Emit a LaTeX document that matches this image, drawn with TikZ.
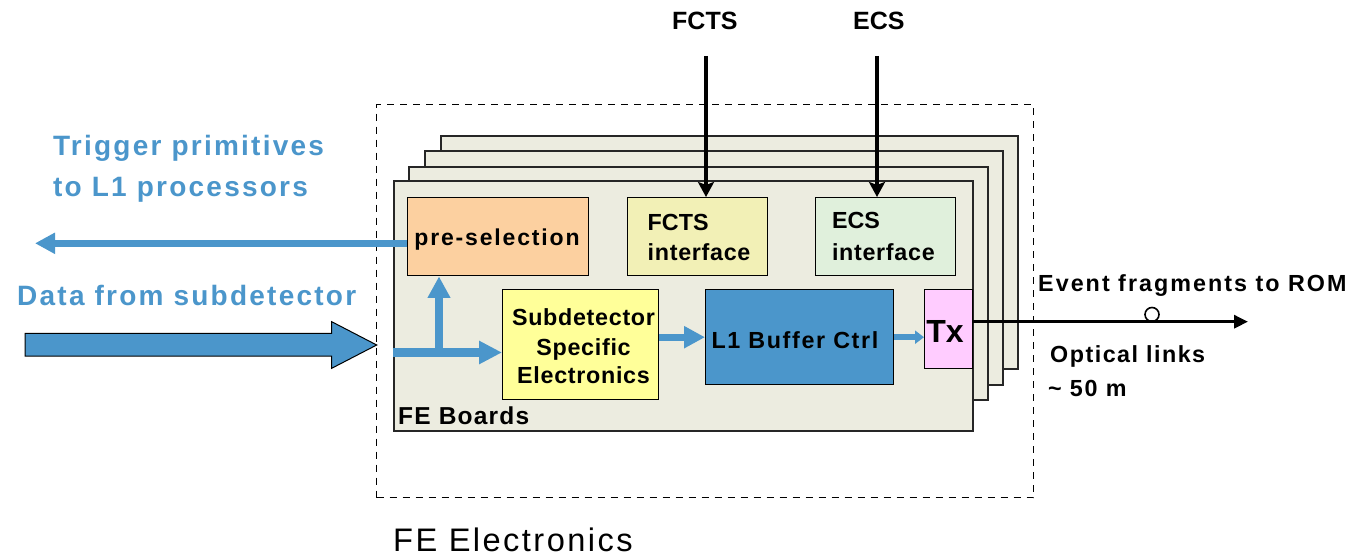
\documentclass[tikz,border=0pt]{standalone}
\usepackage{fontspec}
\setmainfont{Liberation Sans}
\usetikzlibrary{arrows.meta}
\definecolor{cblue}{RGB}{75,150,203}
\definecolor{boardc}{RGB}{236,236,224}
\definecolor{peach}{RGB}{252,208,160}
\definecolor{fctsc}{RGB}{242,240,182}
\definecolor{ecsc}{RGB}{224,240,220}
\definecolor{sdc}{RGB}{255,255,153}
\definecolor{l1c}{RGB}{75,150,203}
\definecolor{txc}{RGB}{255,204,255}
\newcommand\tf[2]{\fontsize{#1}{#1}\selectfont\bfseries\addfontfeature{LetterSpace=#2}}
\begin{document}
\begin{tikzpicture}[x=1pt,y=-1pt,
  board/.style={draw=black!85, line width=2pt, fill=boardc, anchor=north west, inner sep=0pt},
  blk/.style={draw=black, line width=1.4pt, anchor=north west, inner sep=0pt},
  txt/.style={inner sep=0pt, anchor=base},
  txtw/.style={inner sep=0pt, anchor=base west},
  barr/.style={draw=cblue, line width=8.3pt, -{Triangle[length=22pt,width=22pt]}},
  karr/.style={draw=black, line width=3.5pt, -{Stealth[length=15pt,width=16pt,inset=3pt]}},
]
\useasboundingbox (0,0) rectangle (1357,559);
% dashed FE electronics frame
\node[blk, dash pattern=on 7pt off 6pt, line width=1.3pt, minimum width=657pt, minimum height=393pt] (fe) at (376,104) {};
% boards
\node[board, minimum width=577pt, minimum height=233pt] (b4) at (440,135) {};
\node[board, minimum width=578pt, minimum height=234pt] (b3) at (424,150) {};
\node[board, minimum width=579pt, minimum height=233pt] (b2) at (408,166) {};
\node[board, minimum width=579.5pt, minimum height=250pt] (b1) at (392.5,180) {};
% boxes
\node[blk, fill=peach, minimum width=181pt, minimum height=78pt] (ps) at (407,197) {};
\node[blk, fill=fctsc, minimum width=140pt, minimum height=78pt] (fi) at (627,197) {};
\node[blk, fill=ecsc, minimum width=140.5pt, minimum height=78pt] (ei) at (814.5,197) {};
\node[blk, fill=sdc, minimum width=156pt, minimum height=110pt] (sd) at (502,289) {};
\node[blk, fill=l1c, minimum width=188pt, minimum height=95pt] (l1) at (705,289) {};
\node[blk, fill=txc, minimum width=48pt, minimum height=79pt] (tx) at (924,289) {};
% box texts
\node[txt, font=\tf{23}{8}] (pst) at (497,245) {pre-selection};
\node[txtw, font=\tf{23.3}{0}] (fit1) at (647.5,230) {FCTS};
\node[txtw, font=\tf{23.3}{3}] (fit2) at (647.5,260) {interface};
\node[txtw, font=\tf{23.3}{0}] (eit1) at (831.8,228) {ECS};
\node[txtw, font=\tf{23.3}{3}] (eit2) at (831.8,260) {interface};
\node[txt, font=\tf{23.3}{3}] (sdt1) at (583.5,325) {Subdetector};
\node[txt, font=\tf{23.3}{3}] (sdt2) at (583.5,355) {Specific};
\node[txt, font=\tf{23.3}{3}] (sdt3) at (583.5,383.5) {Electronics};
\node[txtw, font=\tf{23.3}{7}] (l1t) at (711.3,348.3) {L1 Buffer Ctrl};
\node[txt, font=\tf{32}{0}] (txl) at (945,342.3) {Tx};
\node[txtw, font=\tf{24.5}{5}] (fbt) at (398,424.3) {FE Boards};
% top labels and arrows
\node[txtw, font=\tf{25}{0}] (fcts) at (672,30) {FCTS};
\node[txtw, font=\tf{25}{0}] (ecs) at (853,30) {ECS};
\coordinate (fctsin) at (706,56);
\coordinate (ecsin) at (877,56);
\draw[karr] (fctsin) -- (fctsin |- fi.north);
\draw[karr] (ecsin) -- (ecsin |- ei.north);
% blue left texts
\node[txtw, font=\tf{28}{8}, text=cblue] (tr1) at (53,156) {Trigger primitives};
\node[txtw, font=\tf{28}{8}, text=cblue] (tr2) at (53,196) {to L1 processors};
\node[txtw, font=\tf{28}{8}, text=cblue] (dfs) at (17,305.7) {Data from subdetector};
% big input arrow
\draw[fill=cblue, draw=black, line width=1pt] (25,333.3) -- (331.7,333.3) -- (331.7,321.7) -- (376.7,345) -- (331.7,368.3) -- (331.7,356) -- (25,356) -- cycle;
% blue connectors
\coordinate (jn) at (439,352.5);
\draw[barr, -{Triangle[length=23pt,width=22pt]}] (b1.west |- jn) -- (sd.west |- jn);
\draw[barr, -{Triangle[length=21.5pt,width=21.5pt]}] ([yshift=4pt]jn) -- (jn |- ps.south);
\coordinate (tp) at (35,243.3);
\draw[barr, line width=7.3pt, -{Triangle[length=20pt,width=20pt]}] (ps.west |- tp) -- (tp);
\draw[barr, line width=7pt, -{Triangle[length=21pt,width=21pt]}] (sd.east |- l1.center) -- (l1.west);
\draw[barr, line width=5.5pt, -{Triangle[length=9pt,width=13pt]}] (l1.east) -- (l1.east -| tx.west);
% output
\coordinate (rom) at (1248,321.7);
\node[circle, draw=black, line width=1.6pt, fill=white, minimum size=14pt, inner sep=0pt] (oc) at (1152,314.5) {};
\draw[karr, line width=3pt, -{Triangle[length=14pt,width=13pt]}] (tx.east |- rom) -- (rom);
\node[txtw, font=\tf{23.3}{8.7}] (evt) at (1038,291.7) {Event fragments to ROM};
\node[txtw, font=\tf{23.3}{6.4}] (opt1) at (1050,362.7) {Optical links};
\node[txtw, font=\tf{23.3}{7.4}] (opt2) at (1048,396.7) {\textasciitilde{} 50 m};
% caption
\node[txtw, font={\fontsize{32.6}{33}\selectfont\addfontfeature{LetterSpace=7.5}}] (fel) at (393,551.7) {FE Electronics};
\end{tikzpicture}
\end{document}
